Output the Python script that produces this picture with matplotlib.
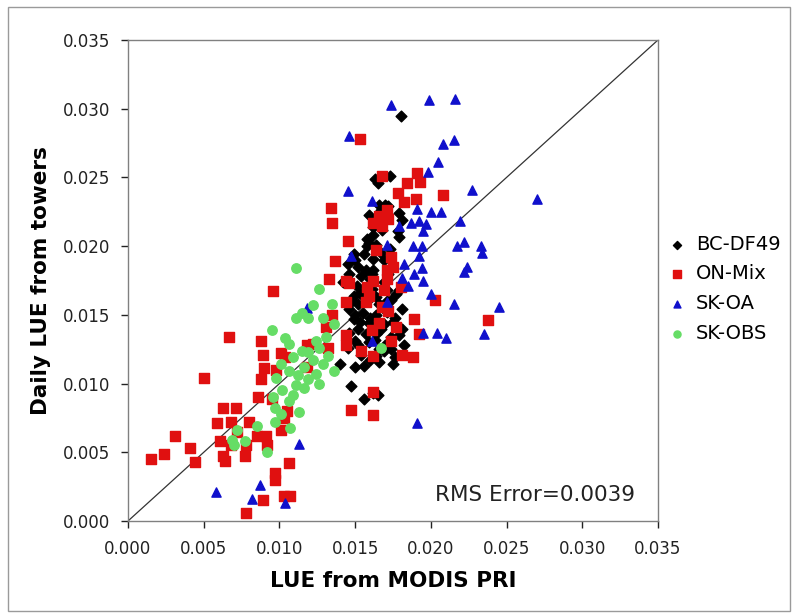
import matplotlib.pyplot as plt
from matplotlib.patches import Rectangle

# LUE pairs per site: (MODIS PRI estimate, tower daily LUE)
bc_df49_x = [0.0180, 0.0173, 0.0163, 0.0165, 0.0166, 0.0170, 0.0172, 0.0179, 0.0159, 0.0164,
             0.0169, 0.0181, 0.0162, 0.0178, 0.0162, 0.0179, 0.0159, 0.0164, 0.0149, 0.0156,
             0.0162, 0.0169, 0.0145, 0.0152, 0.0162, 0.0172, 0.0154, 0.0142, 0.0169, 0.0151,
             0.0161, 0.0179, 0.0149, 0.0164, 0.0174, 0.0152, 0.0169, 0.0146, 0.0181, 0.0155,
             0.0164, 0.0149, 0.0176, 0.0159, 0.0169, 0.0152, 0.0181, 0.0146, 0.0164, 0.0174,
             0.0150, 0.0159, 0.0182, 0.0145, 0.0169, 0.0154, 0.0164, 0.0176, 0.0156, 0.0150,
             0.0166, 0.0175, 0.0140, 0.0147, 0.0156, 0.0165, 0.0162, 0.0156, 0.0146, 0.0161,
             0.0173, 0.0168, 0.0167, 0.0158, 0.0171,
             0.0150, 0.0157, 0.0160, 0.0153, 0.0158, 0.0166, 0.0171, 0.0160, 0.0153, 0.0167,
             0.0157, 0.0163, 0.0170, 0.0148, 0.0177, 0.0179, 0.0174, 0.0152, 0.0166, 0.0160,
             0.0175, 0.0158, 0.0167, 0.0150, 0.0171]
bc_df49_y = [0.0295, 0.0251, 0.0249, 0.0246, 0.0230, 0.0230, 0.0229, 0.0224, 0.0223, 0.0219,
             0.0218, 0.0219, 0.0214, 0.0211, 0.0208, 0.0207, 0.0202, 0.0201, 0.0194, 0.0194,
             0.0191, 0.0190, 0.0187, 0.0185, 0.0183, 0.0180, 0.0178, 0.0174, 0.0174, 0.0171,
             0.0169, 0.0168, 0.0164, 0.0163, 0.0161, 0.0158, 0.0156, 0.0154, 0.0154, 0.0151,
             0.0150, 0.0147, 0.0148, 0.0144, 0.0143, 0.0140, 0.0140, 0.0137, 0.0136, 0.0134,
             0.0131, 0.0130, 0.0128, 0.0126, 0.0124, 0.0121, 0.0120, 0.0119, 0.0113, 0.0112,
             0.0116, 0.0114, 0.0114, 0.0098, 0.0089, 0.0092, 0.0093, 0.0163, 0.0180, 0.0180,
             0.0198, 0.0212, 0.0226, 0.0205, 0.0160,
             0.0190, 0.0183, 0.0176, 0.0166, 0.0160, 0.0158, 0.0152, 0.0148, 0.0145, 0.0140,
             0.0136, 0.0132, 0.0128, 0.0160, 0.0165, 0.0135, 0.0125, 0.0128, 0.0125, 0.0117,
             0.0145, 0.0200, 0.0195, 0.0150, 0.0168]

on_mix_x = [0.0153, 0.0168, 0.0191, 0.0184, 0.0193, 0.0208, 0.0178, 0.0190, 0.0182, 0.0134,
            0.0135, 0.0171, 0.0166, 0.0172, 0.0162, 0.0168, 0.0145, 0.0164, 0.0174, 0.0137,
            0.0175, 0.0171, 0.0133, 0.0144, 0.0146, 0.0162, 0.0171, 0.0158, 0.0169, 0.0180,
            0.0159, 0.0203, 0.0144, 0.0157, 0.0096, 0.0168, 0.0172, 0.0135, 0.0189, 0.0238,
            0.0131, 0.0166, 0.0177, 0.0161, 0.0144, 0.0192, 0.0067, 0.0088, 0.0144, 0.0174,
            0.0118, 0.0122, 0.0132, 0.0154, 0.0089, 0.0104, 0.0162, 0.0181, 0.0188, 0.0101,
            0.0118, 0.0090, 0.0098, 0.0088, 0.0050, 0.0162, 0.0086, 0.0063, 0.0071, 0.0095,
            0.0105, 0.0147, 0.0162, 0.0059, 0.0068, 0.0080, 0.0103, 0.0072, 0.0031, 0.0085,
            0.0091, 0.0101, 0.0061, 0.0068, 0.0078, 0.0092, 0.0041, 0.0024, 0.0063, 0.0015,
            0.0044, 0.0064, 0.0077, 0.0106, 0.0097, 0.0097, 0.0103, 0.0107, 0.0089, 0.0078]
on_mix_y = [0.0278, 0.0251, 0.0253, 0.0246, 0.0247, 0.0237, 0.0239, 0.0234, 0.0232, 0.0228,
            0.0217, 0.0226, 0.0222, 0.0220, 0.0217, 0.0215, 0.0204, 0.0197, 0.0192, 0.0189,
            0.0185, 0.0183, 0.0176, 0.0175, 0.0173, 0.0175, 0.0176, 0.0170, 0.0168, 0.0170,
            0.0164, 0.0161, 0.0159, 0.0159, 0.0167, 0.0156, 0.0153, 0.0150, 0.0147, 0.0146,
            0.0141, 0.0144, 0.0141, 0.0139, 0.0135, 0.0136, 0.0134, 0.0131, 0.0128, 0.0131,
            0.0128, 0.0129, 0.0126, 0.0124, 0.0121, 0.0119, 0.0120, 0.0121, 0.0119, 0.0122,
            0.0112, 0.0111, 0.0110, 0.0103, 0.0104, 0.0094, 0.0090, 0.0082, 0.0082, 0.0089,
            0.0080, 0.0081, 0.0077, 0.0071, 0.0072, 0.0072, 0.0075, 0.0065, 0.0062, 0.0062,
            0.0062, 0.0066, 0.0058, 0.0055, 0.0055, 0.0055, 0.0053, 0.0049, 0.0047, 0.0045,
            0.0043, 0.0044, 0.0047, 0.0042, 0.0035, 0.0030, 0.0018, 0.0018, 0.0015, 0.0006]

sk_oa_x = [0.0174, 0.0199, 0.0216, 0.0146, 0.0215, 0.0208, 0.0205, 0.0198, 0.0227, 0.0145,
           0.0270, 0.0161, 0.0191, 0.0200, 0.0207, 0.0219, 0.0192, 0.0187, 0.0197, 0.0179,
           0.0195, 0.0222, 0.0217, 0.0233, 0.0171, 0.0188, 0.0194, 0.0234, 0.0147, 0.0192,
           0.0182, 0.0224, 0.0194, 0.0222, 0.0189, 0.0181, 0.0195, 0.0185, 0.0200, 0.0171,
           0.0215, 0.0245, 0.0118, 0.0195, 0.0204, 0.0210, 0.0235, 0.0161, 0.0113, 0.0191,
           0.0087, 0.0058, 0.0082, 0.0104]
sk_oa_y = [0.0303, 0.0306, 0.0307, 0.0280, 0.0277, 0.0274, 0.0261, 0.0254, 0.0241, 0.0240,
           0.0234, 0.0233, 0.0227, 0.0225, 0.0225, 0.0218, 0.0218, 0.0217, 0.0216, 0.0215,
           0.0211, 0.0203, 0.0200, 0.0200, 0.0201, 0.0200, 0.0200, 0.0195, 0.0193, 0.0193,
           0.0187, 0.0185, 0.0184, 0.0181, 0.0180, 0.0177, 0.0175, 0.0171, 0.0165, 0.0159,
           0.0158, 0.0156, 0.0155, 0.0137, 0.0137, 0.0133, 0.0136, 0.0131, 0.0056, 0.0071,
           0.0026, 0.0021, 0.0016, 0.0013]

sk_obs_x = [0.0111, 0.0126, 0.0135, 0.0122, 0.0115, 0.0111, 0.0119, 0.0129, 0.0136, 0.0095,
            0.0104, 0.0124, 0.0131, 0.0106, 0.0115, 0.0119, 0.0126, 0.0132, 0.0109, 0.0122,
            0.0129, 0.0101, 0.0116, 0.0136, 0.0106, 0.0112, 0.0124, 0.0119, 0.0098, 0.0111,
            0.0116, 0.0126, 0.0102, 0.0096, 0.0109, 0.0106, 0.0097, 0.0097, 0.0107, 0.0085,
            0.0072, 0.0069, 0.0077, 0.0070, 0.0092, 0.0167, 0.0101, 0.0113]
sk_obs_y = [0.0184, 0.0169, 0.0158, 0.0157, 0.0151, 0.0148, 0.0148, 0.0148, 0.0143, 0.0139,
            0.0133, 0.0131, 0.0134, 0.0129, 0.0124, 0.0123, 0.0126, 0.0120, 0.0119, 0.0117,
            0.0114, 0.0114, 0.0112, 0.0109, 0.0109, 0.0106, 0.0107, 0.0103, 0.0104, 0.0099,
            0.0097, 0.0100, 0.0095, 0.0090, 0.0092, 0.0087, 0.0082, 0.0072, 0.0068, 0.0069,
            0.0066, 0.0059, 0.0058, 0.0055, 0.0050, 0.0126, 0.0078, 0.0079]

rms_error = 0.0039
lims = [0.0, 0.035]
ticks = [0.000, 0.005, 0.010, 0.015, 0.020, 0.025, 0.030, 0.035]

fig = plt.figure(figsize=(7.92, 6.15), dpi=100)
ax = fig.add_axes([0.1616, 0.1528, 0.6692, 0.7822])

# outer frame around the whole figure
fig.patches.append(Rectangle((0.0101, 0.0065), 0.987, 0.982, transform=fig.transFigure,
                             fill=False, edgecolor='#9a9a9a', linewidth=1.0))

ax.plot(lims, lims, color='#333333', linewidth=0.9, zorder=1)

ax.scatter(bc_df49_x, bc_df49_y, marker='D', s=30, color='black', label='BC-DF49', zorder=2)
ax.scatter(on_mix_x, on_mix_y, marker='s', s=50, color='#e01010', label='ON-Mix', zorder=3)
ax.scatter(sk_oa_x, sk_oa_y, marker='^', s=44, color='#1010cc', label='SK-OA', zorder=4)
ax.scatter(sk_obs_x, sk_obs_y, marker='o', s=46, color='#66dd66', label='SK-OBS', zorder=5)

ax.set_xlim(lims)
ax.set_ylim(lims)
ax.set_xticks(ticks)
ax.set_yticks(ticks)
ax.set_xticklabels([f'{t:.3f}' for t in ticks])
ax.set_yticklabels([f'{t:.3f}' for t in ticks])
ax.tick_params(direction='out', length=5, width=1, labelsize=12, colors='#222222',
               top=False, right=False)
ax.tick_params(axis='x', pad=9)
ax.tick_params(axis='y', pad=8)
for side in ax.spines.values():
    side.set_color('#808080')
    side.set_linewidth(1.0)

ax.set_xlabel('LUE from MODIS PRI', fontsize=15.5, fontweight='bold', labelpad=9)
ax.set_ylabel('Daily LUE from towers', fontsize=15.5, fontweight='bold', labelpad=8)

ax.text(0.0335, 0.0012, f'RMS Error={rms_error}', fontsize=15.5, ha='right', va='bottom',
        color='#222222')

leg = ax.legend(loc='center left', bbox_to_anchor=(0.985, 0.483), frameon=False, fontsize=14,
                handletextpad=0.45, labelspacing=0.55, markerscale=0.75, handlelength=1.0)

fig.savefig('out.png', dpi=100)
